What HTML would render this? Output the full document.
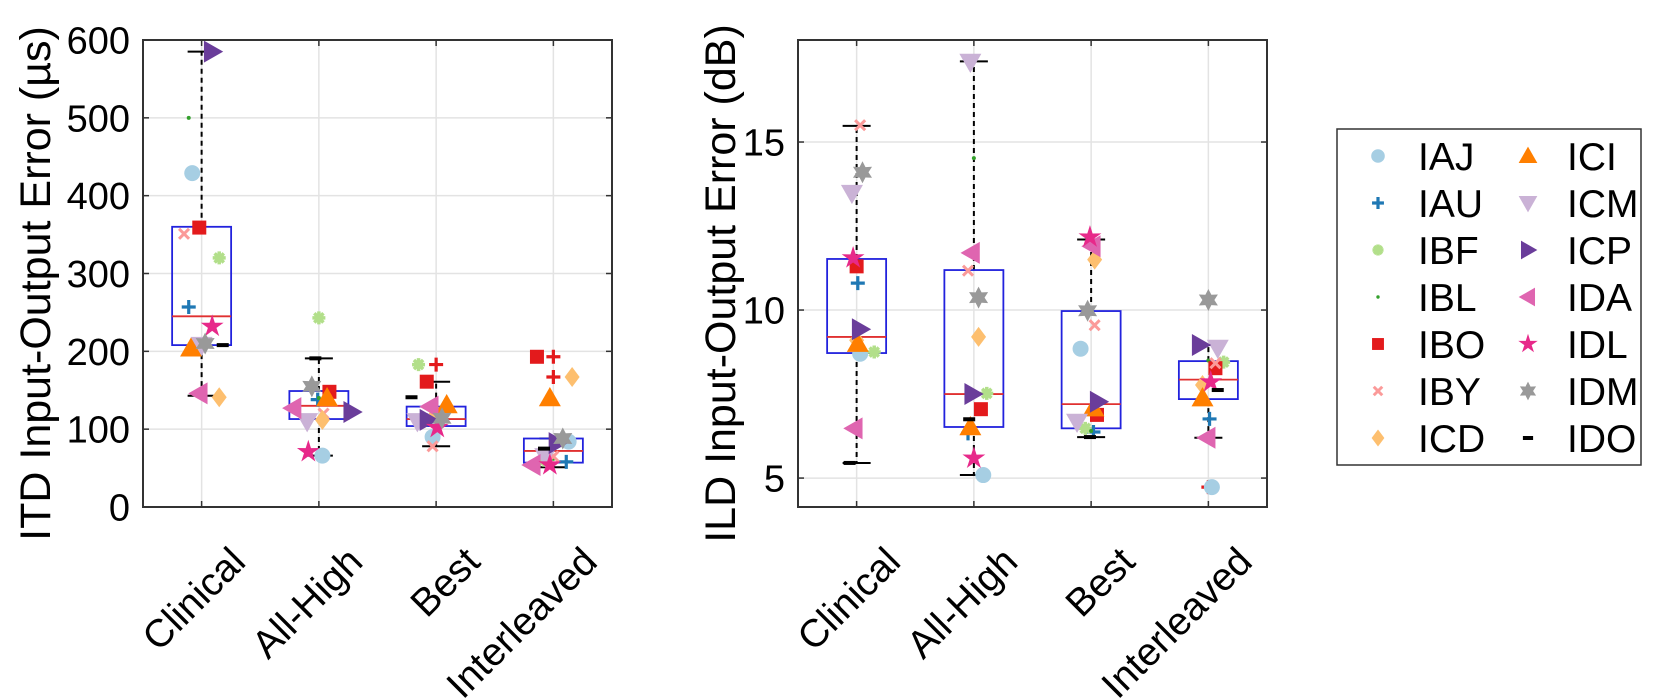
<!DOCTYPE html>
<html><head><meta charset="utf-8"><style>
html,body{margin:0;padding:0;background:#fff;}
svg{display:block;font-family:"Liberation Sans",Arial,sans-serif;}
</style></head><body>
<svg id="chart" width="1654" height="700" viewBox="0 0 1654 700" xmlns="http://www.w3.org/2000/svg"></svg>
<script>
// ---------- data ----------
const categories = ["Clinical","All-High","Best","Interleaved"];
const subjects = ["IAJ","IAU","IBF","IBL","IBO","IBY","ICD","ICI","ICM","ICP","IDA","IDL","IDM","IDO"];
const markerTypes = ["circle","plus","asterisk","dot","square","x","diamond","triUp","triDown","triRight","triLeft","star","hexagram","dash"];
const colors = ["#a6cee3","#1f78b4","#b2df8a","#33a02c","#e31a1c","#fb9a99","#fdbf6f","#ff7f00","#cab2d6","#6a3d9a","#df65b0","#e7298a","#999999","#000000"];

// ITD values per condition (subject order as above)
const itdClinical    = [429,257,320,500,359,351,141,204,208,585,146,232,210,208];
const itdAllHigh     = [66,138,243,140,148,120,112,140,110,122,127,71,155,191];
const itdBest        = [90,115,183,110,161,78,120,131,110,112,129,102,114,141];
const itdInterleaved = [84,58,60,62,193,65,167,140,65,82,54,54,88,75];
const itdQ1  = [208,113,104,57];
const itdMed = [245,130,113,72];
const itdQ3  = [360,149,129,88];
const itdWLo = [143,66,78,51];
const itdWHi = [585,191,161,88];
const itdOutlierCat = [2,3,3];
const itdOutlierVal = [183,193,167];
const itdTicks = [0,100,200,300,400,500,600];

// ILD values per condition
const ildClinical    = [8.7,10.8,8.75,9.0,11.3,15.5,9.1,9.0,13.48,9.43,6.48,11.55,14.1,5.45];
const ildAllHigh     = [5.09,6.33,7.52,14.52,7.05,11.17,9.2,6.52,17.38,7.5,11.7,5.59,10.37,6.75];
const ildBest        = [8.85,6.37,6.48,6.4,6.88,9.55,11.5,7.08,6.67,7.27,11.9,12.17,9.98,6.22];
const ildInterleaved = [4.73,6.76,8.45,8.5,8.27,8.42,7.77,7.38,8.87,8.96,6.2,7.86,10.3,7.62];
const ildQ1  = [8.72,6.52,6.48,7.35];
const ildMed = [9.2,7.5,7.2,7.93];
const ildQ3  = [11.52,11.19,9.97,8.48];
const ildWLo = [5.45,5.09,6.22,6.2];
const ildWHi = [15.48,17.4,12.1,8.96];
const ildOutlierCat = [3];
const ildOutlierVal = [4.73];
const ildTicks = [5,10,15];

// horizontal jitter (in category units)
const itdJitter = [
 [-0.08,-0.11,0.15,-0.11,-0.02,-0.15,0.15,-0.09,0,0.09,-0.02,0.09,0.03,0.18],
 [0.03,-0.01,0,0,0.09,0.04,0.03,0.07,-0.1,0.28,-0.22,-0.09,-0.06,-0.03],
 [-0.03,0,-0.15,0,-0.08,-0.03,0,0.09,-0.16,-0.07,-0.05,0.01,0.05,-0.21],
 [0.13,0.11,-0.08,0,-0.14,0,0.16,-0.03,-0.07,0.03,-0.18,-0.03,0.08,-0.08]];
const ildJitter = [
 [0.03,0.01,0.15,0,0,0.03,0,0.01,-0.04,0.03,-0.02,-0.03,0.05,-0.06],
 [0.08,-0.05,0.11,0,0.06,-0.05,0.04,-0.03,-0.03,-0.01,-0.02,0,0.04,-0.04],
 [-0.09,0.02,-0.05,0,0.05,0.03,0.03,0.02,-0.12,0.06,0.01,-0.01,-0.03,-0.01],
 [0.03,0.01,0.13,0,0.06,0.06,-0.05,-0.05,0.08,-0.07,-0.01,0.02,0,0.08]];

// ---------- drawing ----------
const NS="http://www.w3.org/2000/svg";
const svg=document.getElementById('chart');
function el(tag,attrs,parent){const e=document.createElementNS(NS,tag);for(const k in attrs)e.setAttribute(k,attrs[k]);(parent||svg).appendChild(e);return e;}

function marker(g,type,x,y,c,s){
  s=s||1;let e;
  if(type==="circle"){e=el('circle',{cx:x,cy:y,r:8*s,fill:c},g);}
  else if(type==="plus"){e=el('path',{d:`M${x-7*s},${y}H${x+7*s}M${x},${y-7*s}V${y+7*s}`,stroke:c,'stroke-width':3.2,fill:'none'},g);}
  else if(type==="x"){e=el('path',{d:`M${x-5*s},${y-5*s}L${x+5*s},${y+5*s}M${x-5*s},${y+5*s}L${x+5*s},${y-5*s}`,stroke:c,'stroke-width':3,fill:'none'},g);}
  else if(type==="asterisk"){let d='';for(let i=0;i<4;i++){const a=i*Math.PI/4;d+=`M${x-6.5*s*Math.cos(a)},${y-6.5*s*Math.sin(a)}L${x+6.5*s*Math.cos(a)},${y+6.5*s*Math.sin(a)}`;}e=el('path',{d:d,stroke:c,'stroke-width':3.5,fill:'none'},g);}
  else if(type==="dot"){e=el('circle',{cx:x,cy:y,r:2*s,fill:c},g);}
  else if(type==="square"){e=el('rect',{x:x-7*s,y:y-7*s,width:14*s,height:14*s,fill:c},g);}
  else if(type==="diamond"){const r=10*s;e=el('polygon',{points:`${x},${y-r} ${x+r*0.75},${y} ${x},${y+r} ${x-r*0.75},${y}`,fill:c},g);}
  else if(type.startsWith("tri")){const r=11*s;let pts;
    if(type==="triUp")pts=[[x,y-r],[x+r,y+r*0.75],[x-r,y+r*0.75]];
    else if(type==="triDown")pts=[[x,y+r],[x+r,y-r*0.75],[x-r,y-r*0.75]];
    else if(type==="triRight")pts=[[x+r,y],[x-r*0.75,y-r],[x-r*0.75,y+r]];
    else pts=[[x-r,y],[x+r*0.75,y-r],[x+r*0.75,y+r]];
    e=el('polygon',{points:pts.map(p=>p.join(',')).join(' '),fill:c},g);}
  else if(type==="star"){let p=[];for(let i=0;i<10;i++){const a=-Math.PI/2+i*Math.PI/5;const r=(i%2?4.5:12)*s;p.push((x+r*Math.cos(a))+','+(y+r*Math.sin(a)));}e=el('polygon',{points:p.join(' '),fill:c},g);}
  else if(type==="hexagram"){let p=[];for(let i=0;i<12;i++){const a=-Math.PI/2+i*Math.PI/6;const r=(i%2?6:11)*s;p.push((x+r*Math.cos(a))+','+(y+r*Math.sin(a)));}e=el('polygon',{points:p.join(' '),fill:c},g);}
  else if(type==="dash"){e=el('rect',{x:x-6*s,y:y-2,width:12*s,height:4,fill:c},g);}
  return e;
}

function panel(o){
  const g=el('g',{});
  
  
  const L=o.left,R=o.right,T=40,B=507;
  const y=v=>B-(v-o.ymin)/(o.ymax-o.ymin)*(B-T);
  const step=(R-L)/4;
  const x=i=>L+step*(i+0.5);
  // grid
  o.ticks.forEach(t=>{const gl=el('line',{x1:L,x2:R,y1:y(t),y2:y(t),stroke:'#e3e3e3','stroke-width':1.5},g);
    });
  categories.forEach((c,i)=>{const gl=el('line',{x1:x(i),x2:x(i),y1:T,y2:B,stroke:'#e3e3e3','stroke-width':1.5},g);
    });
  // boxes
  const hw=29.5;
  categories.forEach((c,i)=>{
    const bg=el('g',{},g);
    
    
    el('line',{x1:x(i),x2:x(i),y1:y(o.q3[i]),y2:y(o.whi[i]),stroke:'#000','stroke-width':2,'stroke-dasharray':'5,4'},bg);
    el('line',{x1:x(i),x2:x(i),y1:y(o.q1[i]),y2:y(o.wlo[i]),stroke:'#000','stroke-width':2,'stroke-dasharray':'5,4'},bg);
    el('line',{x1:x(i)-14,x2:x(i)+14,y1:y(o.whi[i]),y2:y(o.whi[i]),stroke:'#000','stroke-width':2},bg);
    el('line',{x1:x(i)-14,x2:x(i)+14,y1:y(o.wlo[i]),y2:y(o.wlo[i]),stroke:'#000','stroke-width':2},bg);
    el('rect',{x:x(i)-hw,y:y(o.q3[i]),width:2*hw,height:y(o.q1[i])-y(o.q3[i]),fill:'none',stroke:'#2222dd','stroke-width':1.8},bg);
    el('line',{x1:x(i)-hw,x2:x(i)+hw,y1:y(o.med[i]),y2:y(o.med[i]),stroke:'#e03030','stroke-width':1.8},bg);
  });
  // outliers
  o.outCat.forEach((ci,k)=>{const m=marker(g,'plus',x(ci),y(o.outVal[k]),'#e31a1c',1);
    });
  // points
  o.series.forEach((vals,ci)=>{
    vals.forEach((v,si)=>{
      if(v==null)return;
      const m=marker(g,markerTypes[si],x(ci)+o.jitter[ci][si]*step,y(v),colors[si],1);
      
      
    });
  });
  // frame
  const fr=el('rect',{x:L,y:T,width:R-L,height:B-T,fill:'none',stroke:'#333','stroke-width':2},g);
  
  // y ticks
  o.ticks.forEach(t=>{
    el('line',{x1:L,x2:L+6,y1:y(t),y2:y(t),stroke:'#333','stroke-width':1.5},g);
    el('line',{x1:R,x2:R-6,y1:y(t),y2:y(t),stroke:'#333','stroke-width':1.5},g);
    const tl=el('text',{x:L-13,y:y(t)+13.5,'text-anchor':'end','font-size':38,fill:'#000'},g);
    tl.textContent=t;
    
  });
  // x ticks + labels
  categories.forEach((c,i)=>{
    el('line',{x1:x(i),x2:x(i),y1:B,y2:B-6,stroke:'#333','stroke-width':1.5},g);
    el('line',{x1:x(i),x2:x(i),y1:T,y2:T+6,stroke:'#333','stroke-width':1.5},g);
    const tl=el('text',{transform:`translate(${x(i)+26},${544}) rotate(-45)`,'text-anchor':'end',dy:'0.72em','font-size':39,fill:'#000'},g);
    tl.textContent=c;
    
  });
  const yl=el('text',{transform:`translate(${o.ylx},${(T+B)/2+10}) rotate(-90)`,'text-anchor':'middle','font-size':43,fill:'#000'},g);
  yl.textContent=o.ylabel;
  
}

panel({name:'itd-panel',left:143,right:612,ymin:0,ymax:600,ticks:itdTicks,
  q1:itdQ1,med:itdMed,q3:itdQ3,wlo:itdWLo,whi:itdWHi,outCat:itdOutlierCat,outVal:itdOutlierVal,
  series:[itdClinical,itdAllHigh,itdBest,itdInterleaved],jitter:itdJitter,
  ylabel:'ITD Input-Output Error (µs)',ylx:50});
panel({name:'ild-panel',left:798,right:1267,ymin:4.139,ymax:18.036,ticks:ildTicks,
  q1:ildQ1,med:ildMed,q3:ildQ3,wlo:ildWLo,whi:ildWHi,outCat:ildOutlierCat,outVal:ildOutlierVal,
  series:[ildClinical,ildAllHigh,ildBest,ildInterleaved],jitter:ildJitter,
  ylabel:'ILD Input-Output Error (dB)',ylx:735});

// legend
const lg=el('g',{});


el('rect',{x:1337,y:129,width:304,height:336,fill:'#fff',stroke:'#333','stroke-width':1.5},lg);
subjects.forEach((s,i)=>{
  const col=i<7?0:1,row=i%7;
  const cy=156+row*47;
  const mx=col?1528:1378, tx=col?1567:1418;
  const eg=el('g',{},lg);
  
  
  marker(eg,markerTypes[i],mx,cy,colors[i],0.85);
  const t=el('text',{x:tx,y:cy+14,'font-size':39,fill:'#000'},eg);
  t.textContent=s;
});
</script>
</body></html>
